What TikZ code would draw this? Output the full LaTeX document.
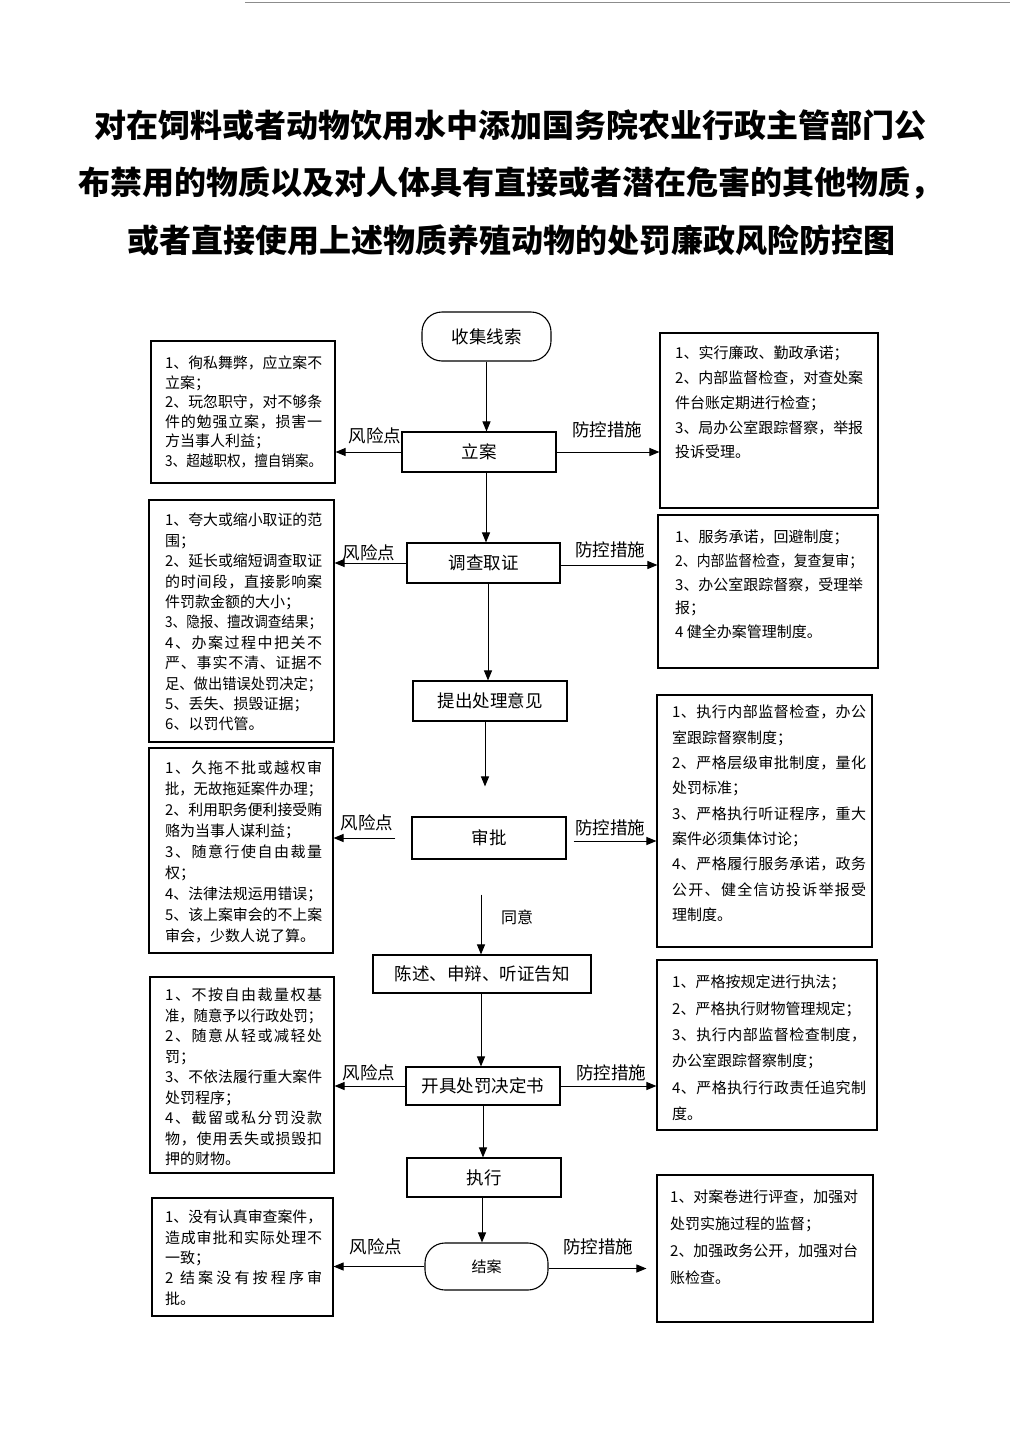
\documentclass[tikz,border=0pt]{standalone}
\usepackage{fontspec}
\usepackage{graphicx}
\setmainfont{Noto Sans CJK SC}
\usetikzlibrary{arrows.meta}
\newcount\cjkcc
\cjkcc="4E00
\loop \XeTeXcharclass\cjkcc=1 \advance\cjkcc by 1 \ifnum\cjkcc<"A000 \repeat
\XeTeXcharclass"3001=3
\XeTeXcharclass"3002=3
\XeTeXcharclass"FF0C=3
\XeTeXcharclass"FF1B=3
\XeTeXinterchartokenstate=1
\XeTeXinterchartoks 1 1 = {\hskip 0pt plus 1fil\relax}
\XeTeXinterchartoks 3 1 = {\hskip 0pt plus 1fil\relax}
\XeTeXinterchartoks 1 3 = {\hskip 0pt plus 1fil\relax}
\XeTeXinterchartoks 3 3 = {\hskip 0pt plus 1fil\relax}
\XeTeXinterchartoks 0 3 = {\hskip 0pt plus 1fil\relax}
\newsavebox\jbox
\newlength\jw
\newcommand\J[1]{\sbox\jbox{#1}\ifdim\wd\jbox>\jw\resizebox{\jw}{\ht\jbox}{\usebox\jbox}\else\makebox[\jw][s]{#1}\fi}
\newcommand\F[1]{\sbox\jbox{#1}\ifdim\wd\jbox>\jw\resizebox{\jw}{\ht\jbox}{\usebox\jbox}\else\usebox\jbox\fi}
\begin{document}
\begin{tikzpicture}[x=1pt,y=-1pt,
  flow/.style={draw, line width=1.1pt, font=\fontsize{17.5}{20}\selectfont, inner sep=0pt},
  stad/.style={flow, rounded corners=20pt},
  side/.style={draw, line width=1.1pt, inner sep=0pt},
  ltxt/.style={anchor=north west, align=left, inner sep=0pt},
  lab/.style={font=\fontsize{17.5}{20}\selectfont, inner sep=0pt},
  ttl/.style={font=\fontsize{32}{38}\selectfont\bfseries, inner sep=0pt},
  arr/.style={-{Triangle[length=10pt,width=8pt]}, line width=1pt}]
\useasboundingbox (0,0) rectangle (1024,1448);
\fill[white] (0,0) rectangle (1024,1448);
\draw[black!45, line width=1pt] (245,2) -- (1010,2);
% title
\node[ttl] (t1) at (510,125) {对在饲料或者动物饮用水中添加国务院农业行政主管部门公};
\node[ttl] (t2) at (510,183) {布禁用的物质以及对人体具有直接或者潜在危害的其他物质，};
\node[ttl] (t3) at (511,240) {或者直接使用上述物质养殖动物的处罚廉政风险防控图};
% flow nodes
\node[stad, minimum width=129pt, minimum height=49pt] (shouji) at (486.5,336.5) {收集线索};
\node[flow, minimum width=154pt, minimum height=40pt] (lian) at (479,452) {立案};
\node[flow, minimum width=153pt, minimum height=40pt] (diaocha) at (483.5,563) {调查取证};
\node[flow, minimum width=154pt, minimum height=40pt] (tichu) at (490,701) {提出处理意见};
\node[flow, minimum width=154pt, minimum height=42pt] (shenpi) at (489,838) {审批};
\node[flow, minimum width=218pt, minimum height=38pt] (chenshu) at (482,974) {陈述、申辩、听证告知};
\node[flow, minimum width=154pt, minimum height=38pt] (kaiju) at (483,1086) {开具处罚决定书};
\node[flow, minimum width=154pt, minimum height=39pt] (zhixing) at (484,1177.5) {执行};
\node[stad, minimum width=123pt, minimum height=47pt, font=\fontsize{15}{18}\selectfont] (jiean) at (486.5,1266.5) {结案};
% side boxes
\node[side, minimum width=184pt, minimum height=142pt] (L1) at (243,412) {};
\node[side, minimum width=185pt, minimum height=242pt] (L2) at (241.5,621) {};
\node[side, minimum width=184pt, minimum height=205pt] (L3) at (241,850.5) {};
\node[side, minimum width=184pt, minimum height=196pt] (L4) at (242,1075) {};
\node[side, minimum width=181pt, minimum height=118pt] (L5) at (242.5,1257) {};
\node[side, minimum width=218pt, minimum height=175pt] (R1) at (769,420.5) {};
\node[side, minimum width=220pt, minimum height=153pt] (R2) at (768,591.5) {};
\node[side, minimum width=215pt, minimum height=252pt] (R3) at (764.5,821) {};
\node[side, minimum width=220pt, minimum height=170pt] (R4) at (767,1045) {};
\node[side, minimum width=216pt, minimum height=147pt] (R5) at (765,1248.5) {};
% left texts
\setlength\jw{157pt}
\node[ltxt, font=\fontsize{15}{19.5}\selectfont] (L1t) at (165,356) {\J{1、徇私舞弊，应立案不}\\\F{立案；}\\\J{2、玩忽职守，对不够条}\\\J{件的勉强立案，损害一}\\\F{方当事人利益；}\\\F{3、超越职权，擅自销案。}};
\node[ltxt, font=\fontsize{15}{20.4}\selectfont] (L2t) at (165,513) {\J{1、夸大或缩小取证的范}\\\F{围；}\\\J{2、延长或缩短调查取证}\\\J{的时间段，直接影响案}\\\F{件罚款金额的大小；}\\\F{3、隐报、擅改调查结果；}\\\J{4、办案过程中把关不}\\\J{严、事实不清、证据不}\\\F{足、做出错误处罚决定；}\\\F{5、丢失、损毁证据；}\\\F{6、以罚代管。}};
\node[ltxt, font=\fontsize{15}{21}\selectfont] (L3t) at (165,761) {\J{1、久拖不批或越权审}\\\F{批，无故拖延案件办理；}\\\J{2、利用职务便利接受贿}\\\F{赂为当事人谋利益；}\\\J{3、随意行使自由裁量}\\\F{权；}\\\F{4、法律法规运用错误；}\\\J{5、该上案审会的不上案}\\\F{审会，少数人说了算。}};
\node[ltxt, font=\fontsize{15}{20.5}\selectfont] (L4t) at (165,988) {\J{1、不按自由裁量权基}\\\F{准，随意予以行政处罚；}\\\J{2、随意从轻或减轻处}\\\F{罚；}\\\J{3、不依法履行重大案件}\\\F{处罚程序；}\\\J{4、截留或私分罚没款}\\\J{物，使用丢失或损毁扣}\\\F{押的财物。}};
\node[ltxt, font=\fontsize{15}{20.3}\selectfont] (L5t) at (165,1210) {\F{1、没有认真审查案件，}\\\J{造成审批和实际处理不}\\\F{一致；}\\\J{2 \hskip 0pt plus 1fil 结案没有按程序审}\\\F{批。}};
% right texts
\setlength\jw{188pt}
\node[ltxt, font=\fontsize{15}{24.7}\selectfont] (R1t) at (675,346) {\F{1、实行廉政、勤政承诺；}\\\J{2、内部监督检查，对查处案}\\\F{件台账定期进行检查；}\\\J{3、局办公室跟踪督察，举报}\\\F{投诉受理。}};
\node[ltxt, font=\fontsize{15}{23.7}\selectfont] (R2t) at (675,530) {\F{1、服务承诺，回避制度；}\\\F{2、内部监督检查，复查复审；}\\\J{3、办公室跟踪督察，受理举}\\\F{报；}\\\F{4 健全办案管理制度。}};
\setlength\jw{194pt}
\node[ltxt, font=\fontsize{15}{25.3}\selectfont] (R3t) at (672,705) {\J{1、执行内部监督检查，办公}\\\F{室跟踪督察制度；}\\\J{2、严格层级审批制度，量化}\\\F{处罚标准；}\\\J{3、严格执行听证程序，重大}\\\F{案件必须集体讨论；}\\\J{4、严格履行服务承诺，政务}\\\J{公开、健全信访投诉举报受}\\\F{理制度。}};
\node[ltxt, font=\fontsize{15}{26.3}\selectfont] (R4t) at (672,975) {\F{1、严格按规定进行执法；}\\\F{2、严格执行财物管理规定；}\\\J{3、执行内部监督检查制度，}\\\F{办公室跟踪督察制度；}\\\J{4、严格执行行政责任追究制}\\\F{度。}};
\setlength\jw{188pt}
\node[ltxt, font=\fontsize{15}{26.7}\selectfont] (R5t) at (670,1190) {\J{1、对案卷进行评查，加强对}\\\F{处罚实施过程的监督；}\\\J{2、加强政务公开，加强对台}\\\F{账检查。}};
% vertical connectors
\draw[arr] (shouji.south) -- (shouji.south |- lian.north);
\draw[arr] ([xshift=7pt]lian.south) -- ([xshift=7pt]lian.south |- diaocha.north);
\draw[arr] ([xshift=4.5pt]diaocha.south) -- ([xshift=4.5pt]diaocha.south |- tichu.north);
\draw[arr, shorten >=30pt] ([xshift=-5pt]tichu.south) -- ([xshift=-5pt]tichu.south |- shenpi.north);
\draw[arr, shorten <=35pt] ([xshift=-8pt]shenpi.south) -- ([xshift=-8pt]shenpi.south |- chenshu.north);
\node[font=\fontsize{16}{18}\selectfont, inner sep=0pt] (tongyi) at (517,917) {同意};
\draw[arr] ([xshift=-1pt]chenshu.south) -- ([xshift=-1pt]chenshu.south |- kaiju.north);
\draw[arr] (kaiju.south) -- (kaiju.south |- zhixing.north);
\draw[arr] ([xshift=-2pt]zhixing.south) -- ([xshift=-2pt]zhixing.south |- jiean.north);
% horizontal connectors
\draw[arr] (lian.west) -- (lian.west -| L1.east);
\draw[arr] (lian.east) -- (lian.east -| R1.west);
\draw[arr] (diaocha.west) -- (diaocha.west -| L2.east);
\draw[arr] ([yshift=-2pt]diaocha.east) -- ([yshift=-2pt]diaocha.east -| R2.west);
\draw[arr, shorten <=16pt] (shenpi.west) -- (shenpi.west -| L3.east);
\draw[arr, shorten <=7pt] ([yshift=-3pt]shenpi.east) -- ([yshift=-3pt]shenpi.east -| R3.west);
\draw[arr] (kaiju.west) -- (kaiju.west -| L4.east);
\draw[arr] (kaiju.east) -- (kaiju.east -| R4.west);
\draw[arr] (jiean.west) -- (jiean.west -| L5.east);
\draw[arr, shorten >=10pt] ([yshift=-2pt]jiean.east) -- ([yshift=-2pt]jiean.east -| R5.west);
% labels
\node[lab] (k1) at (375,436) {风险点};
\node[lab] (f1) at (607,430) {防控措施};
\node[lab] (k2) at (369,553) {风险点};
\node[lab] (f2) at (610,550) {防控措施};
\node[lab] (k3) at (367,823) {风险点};
\node[lab] (f3) at (610,828) {防控措施};
\node[lab] (k4) at (369,1073) {风险点};
\node[lab] (f4) at (611,1073) {防控措施};
\node[lab] (k5) at (376,1247) {风险点};
\node[lab] (f5) at (598,1247) {防控措施};
\end{tikzpicture}
\end{document}
